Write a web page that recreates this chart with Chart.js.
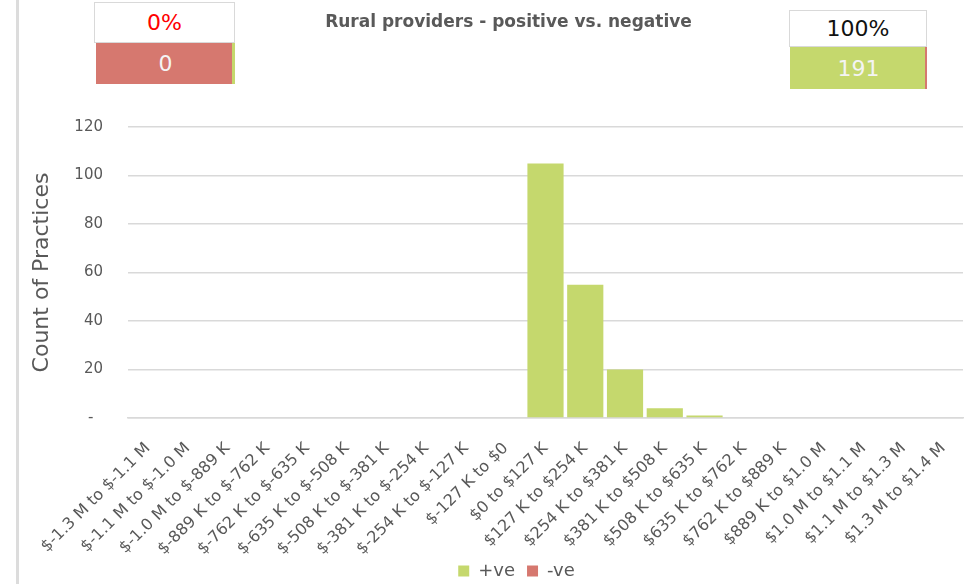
<!DOCTYPE html>
<html>
<head>
<meta charset="utf-8">
<title>Rural providers - positive vs. negative</title>
<script src="https://cdn.jsdelivr.net/npm/chart.js@4.4.1/dist/chart.umd.min.js"></script>
<style>
  html, body { margin: 0; padding: 0; background: #fff; }
  body { width: 972px; height: 584px; position: relative; overflow: hidden; font-family: 'DejaVu Sans', sans-serif; }
  .frame-line { position: absolute; left: 16px; top: 0; width: 3px; height: 584px; background: #dcdcdc; }
  .chart-wrap { position: absolute; left: 0; top: 0; width: 972px; height: 584px; }
  .summary { position: absolute; z-index: 2; }
  .summary .pct { box-sizing: border-box; border: 1px solid #d9d9d9; background: #fff; display: flex; align-items: center; justify-content: center; font-size: 22px; }
  .summary .count { display: flex; align-items: center; justify-content: center; font-size: 22px; color: #f4f4f4; }
  #neg { left: 94px; top: 2px; width: 141px; }
  #neg .pct { height: 41px; color: #ff0000; }
  #neg .count { height: 41px; margin-left: 2px; background: linear-gradient(to right, #d6786f calc(100% - 3px), #c5d86d calc(100% - 3px)); }
  #pos { left: 789px; top: 10px; width: 138px; }
  #pos .pct { height: 37px; color: #111; }
  #pos .count { height: 42px; margin-left: 1px; background: linear-gradient(to right, #c5d86d calc(100% - 2px), #d6786f calc(100% - 2px)); }
</style>
</head>
<body>
<div class="frame-line"></div>
<div class="summary" id="neg"><div class="pct"></div><div class="count"></div></div>
<div class="summary" id="pos"><div class="pct"></div><div class="count"></div></div>
<div class="chart-wrap"><canvas id="chart"></canvas></div>
<script>
const categories = [
  '$-1.3 M to $-1.1 M', '$-1.1 M to $-1.0 M', '$-1.0 M to $-889 K', '$-889 K to $-762 K',
  '$-762 K to $-635 K', '$-635 K to $-508 K', '$-508 K to $-381 K', '$-381 K to $-254 K',
  '$-254 K to $-127 K', '$-127 K to $0', '$0 to $127 K', '$127 K to $254 K',
  '$254 K to $381 K', '$381 K to $508 K', '$508 K to $635 K', '$635 K to $762 K',
  '$762 K to $889 K', '$889 K to $1.0 M', '$1.0 M to $1.1 M', '$1.1 M to $1.3 M',
  '$1.3 M to $1.4 M'
];
const positiveCounts = [0, 0, 0, 0, 0, 0, 0, 0, 0, 0, 105, 55, 20, 4, 1, 0, 0, 0, 0, 0, 0];
const negativeCounts = [0, 0, 0, 0, 0, 0, 0, 0, 0, 0, 0, 0, 0, 0, 0, 0, 0, 0, 0, 0, 0];
const yTickLabels = ['-  ', '20', '40', '60', '80', '100', '120'];

// summary boxes: negative, positive
const summaryPercents = ['0%', '100%'];
const summaryCounts = [0, 191];

const GREEN = '#c5d86d';
const RED = '#d6786f';
const GREY = '#595959';
const FONT = "'DejaVu Sans', sans-serif";

document.querySelector('#neg .pct').textContent = summaryPercents[0];
document.querySelector('#neg .count').textContent = summaryCounts[0];
document.querySelector('#pos .pct').textContent = summaryPercents[1];
document.querySelector('#pos .count').textContent = summaryCounts[1];

// Excel centres title/legend a bit right of the canvas middle,
// and the slanted labels run down beside the legend
const nudge = {
  id: 'nudge',
  afterLayout(chart) {
    chart.legend.left += 24; chart.legend.right += 24;
    chart.legend.top += 6; chart.legend.bottom += 6;
    chart.titleBlock.left += 16; chart.titleBlock.right += 16;
    chart.scales.x.bottom = chart.height;
  }
};

new Chart(document.getElementById('chart'), {
  type: 'bar',
  data: {
    labels: categories,
    datasets: [
      { label: '+ve', data: positiveCounts, backgroundColor: GREEN, borderWidth: 0 },
      { label: '-ve', data: negativeCounts, backgroundColor: RED, borderWidth: 0 }
    ]
  },
  options: {
    responsive: true,
    maintainAspectRatio: false,
    animation: false,
    datasets: { bar: { barPercentage: 1, categoryPercentage: 0.91 } },
    layout: { padding: { left: 22, right: 9, top: 0, bottom: 0 } },
    plugins: {
      title: {
        display: true,
        text: 'Rural providers - positive vs. negative',
        color: GREY,
        font: { family: FONT, size: 17, weight: 'bold' },
        padding: { top: 12, bottom: 94.6 }
      },
      legend: {
        position: 'bottom',
        labels: {
          color: GREY,
          font: { family: FONT, size: 18 },
          boxWidth: 11,
          boxHeight: 11,
          padding: 12
        }
      },
      tooltip: { enabled: false }
    },
    scales: {
      x: {
        stacked: true,
        grid: { display: false },
        border: { color: '#d9d9d9', width: 1.5 },
        ticks: {
          color: GREY,
          font: { family: FONT, size: 16 },
          autoSkip: false,
          maxRotation: 45,
          minRotation: 45,
          padding: 13
        },
        afterFit(scale) { scale.height = 126; }
      },
      y: {
        stacked: true,
        min: 0,
        max: 120,
        border: { display: false },
        grid: { color: '#d9d9d9', lineWidth: 1.5, drawTicks: false },
        ticks: {
          stepSize: 20,
          color: GREY,
          font: { family: FONT, size: 15 },
          padding: 25,
          callback: (value, index) => yTickLabels[index]
        },
        title: {
          display: true,
          text: 'Count of Practices',
          color: GREY,
          font: { family: FONT, size: 22 },
          padding: { top: 7, bottom: 0 }
        },
        afterFit(scale) { scale.width = 106; }
      }
    }
  },
  plugins: [nudge]
});
</script>
</body>
</html>
